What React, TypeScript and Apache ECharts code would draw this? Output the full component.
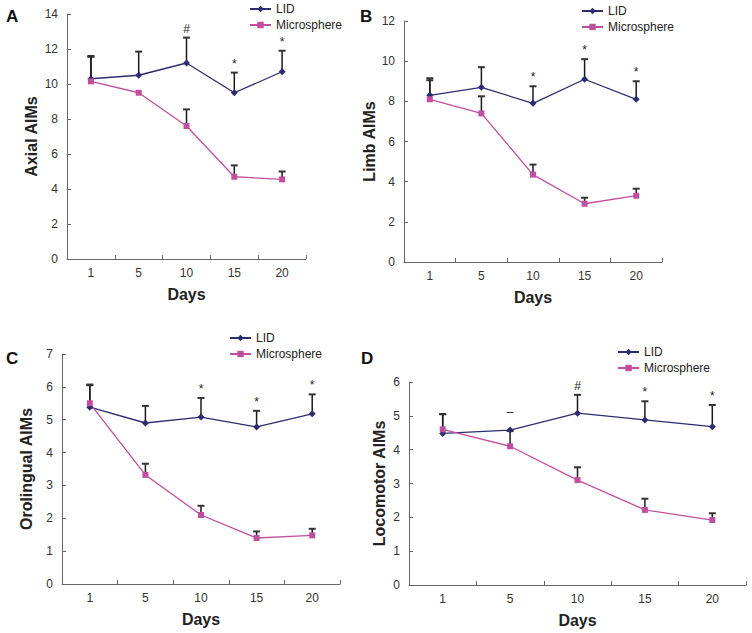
import React, { useEffect, useRef } from "react";
import * as echarts from "echarts";

const days = ["1", "5", "10", "15", "20"];

const axialLID = [10.3, 10.5, 11.2, 9.5, 10.7];
const axialLIDTop = [11.55, 11.85, 12.65, 10.65, 11.9];
const axialMic = [10.15, 9.5, 7.6, 4.7, 4.55];
const axialMicTop = [11.6, null, 8.55, 5.35, 5.0];
const axialMarks = ["", "", "#", "*", "*"];

const limbLID = [8.3, 8.7, 7.9, 9.1, 8.1];
const limbLIDTop = [9.15, 9.7, 8.75, 10.1, 9.0];
const limbMic = [8.1, 7.4, 4.35, 2.9, 3.3];
const limbMicTop = [9.05, 8.25, 4.85, 3.2, 3.65];
const limbMarks = ["", "", "*", "*", "*"];

const oroLID = [5.38, 4.9, 5.08, 4.78, 5.18];
const oroLIDTop = [6.07, 5.42, 5.66, 5.27, 5.77];
const oroMic = [5.5, 3.32, 2.1, 1.4, 1.48];
const oroMicTop = [6.05, 3.66, 2.38, 1.6, 1.68];
const oroMarks = ["", "", "*", "*", "*"];

const locoLID = [4.48, 4.58, 5.08, 4.88, 4.68];
const locoLIDTop = [5.05, null, 5.62, 5.43, 5.32];
const locoMic = [4.6, 4.1, 3.1, 2.22, 1.92];
const locoMicTop = [5.05, 4.55, 3.48, 2.55, 2.12];
const locoMarks = ["", "–", "#", "*", "*"];

const LID_COLOR = "#2c2c70";
const MIC_COLOR = "#c0509f";
const FONT = "Liberation Sans, Arial, sans-serif";

type Panel = {
  letter: string;
  yName: string;
  max: number;
  interval: number;
  lid: number[];
  lidTop: (number | null)[];
  mic: number[];
  micTop: (number | null)[];
  marks: string[];
  grid: { left: number; top: number; width: number; height: number };
  yNameGap: number;
  legendPos: { left: number; top: number };
  letterPos: { x: number; y: number };
};

const panels: Panel[] = [
  {
    letter: "A", yName: "Axial AIMs", max: 14, interval: 2,
    lid: axialLID, lidTop: axialLIDTop, mic: axialMic, micTop: axialMicTop, marks: axialMarks,
    grid: { left: 67, top: 14, width: 239, height: 245 }, yNameGap: 28,
    legendPos: { left: 249, top: 3 }, letterPos: { x: 6, y: 8 },
  },
  {
    letter: "B", yName: "Limb AIMs", max: 12, interval: 2,
    lid: limbLID, lidTop: limbLIDTop, mic: limbMic, micTop: limbMicTop, marks: limbMarks,
    grid: { left: 404, top: 21, width: 258, height: 241 }, yNameGap: 26,
    legendPos: { left: 581, top: 5 }, letterPos: { x: 360, y: 8 },
  },
  {
    letter: "C", yName: "Orolingual AIMs", max: 7, interval: 1,
    lid: oroLID, lidTop: oroLIDTop, mic: oroMic, micTop: oroMicTop, marks: oroMarks,
    grid: { left: 62, top: 354, width: 278, height: 230 }, yNameGap: 28,
    legendPos: { left: 229, top: 332 }, letterPos: { x: 6, y: 350 },
  },
  {
    letter: "D", yName: "Locomotor AIMs", max: 6, interval: 1,
    lid: locoLID, lidTop: locoLIDTop, mic: locoMic, micTop: locoMicTop, marks: locoMarks,
    grid: { left: 409, top: 382, width: 337, height: 203 }, yNameGap: 22,
    legendPos: { left: 617, top: 346 }, letterPos: { x: 361, y: 350 },
  },
];

function makeErrorRender(marks: string[]) {
  return function errorRender(params: any, api: any) {
    const idx = api.value(0);
    const val = api.value(1);
    const top = api.value(2);
    const mark = marks[params.dataIndex] || "";
    const p = api.coord([idx, val]);
    const children: any[] = [];
    let anchorY = p[1];
    if (top !== null && top !== undefined && !isNaN(top) && top > val) {
      const t = api.coord([idx, top]);
      children.push({
        type: "line",
        shape: { x1: p[0], y1: p[1], x2: t[0], y2: t[1] },
        style: { stroke: "#1a1a1a", lineWidth: 1.5 },
      });
      children.push({
        type: "line",
        shape: { x1: t[0] - 3.5, y1: t[1], x2: t[0] + 3.5, y2: t[1] },
        style: { stroke: "#333", lineWidth: 2 },
      });
      anchorY = t[1];
    } else if (mark) {
      anchorY = p[1] - 9;
    }
    if (mark) {
      children.push({
        type: "text",
        style: {
          text: mark,
          x: p[0],
          y: anchorY - 3,
          align: "center",
          verticalAlign: "bottom",
          fill: "#222",
          font: `12px ${FONT}`,
        },
      });
    }
    return { type: "group", children };
  };
}

const noMarks = ["", "", "", "", ""];

export default function App() {
  const ref = useRef<HTMLDivElement>(null);
  useEffect(() => {
    if (!ref.current) return;
    const chart = echarts.init(ref.current, undefined, { renderer: "svg" });

    const grid: any[] = [];
    const xAxis: any[] = [];
    const yAxis: any[] = [];
    const series: any[] = [];
    const legend: any[] = [];
    const graphic: any[] = [];

    panels.forEach((pn, i) => {
      grid.push({ ...pn.grid, containLabel: false });
      xAxis.push({
        type: "category",
        gridIndex: i,
        data: days,
        boundaryGap: true,
        axisLine: { show: true, lineStyle: { color: "#666", width: 1 } },
        axisTick: { show: true, inside: true, length: 4, lineStyle: { color: "#666" } },
        axisLabel: { color: "#333", fontSize: 12, fontFamily: FONT, margin: 8 },
        splitLine: { show: false },
        name: "Days",
        nameLocation: "middle",
        nameGap: 27,
        nameTextStyle: { fontSize: 16, fontWeight: "bold", color: "#222", fontFamily: FONT },
      });
      yAxis.push({
        type: "value",
        gridIndex: i,
        min: 0,
        max: pn.max,
        interval: pn.interval,
        axisLine: { show: true, lineStyle: { color: "#666", width: 1 } },
        axisTick: { show: true, inside: true, length: 4, lineStyle: { color: "#666" } },
        axisLabel: { color: "#333", fontSize: 12, fontFamily: FONT, margin: 9 },
        splitLine: { show: false },
        name: pn.yName,
        nameLocation: "middle",
        nameRotate: 90,
        nameGap: pn.yNameGap,
        nameTextStyle: { fontSize: 16, fontWeight: "bold", color: "#222", fontFamily: FONT },
      });
      series.push({
        type: "line",
        name: "LID",
        xAxisIndex: i,
        yAxisIndex: i,
        data: pn.lid,
        symbol: "diamond",
        symbolSize: 7,
        z: 3,
        lineStyle: { color: LID_COLOR, width: 1.3 },
        itemStyle: { color: LID_COLOR },
      });
      series.push({
        type: "line",
        name: "Microsphere",
        xAxisIndex: i,
        yAxisIndex: i,
        data: pn.mic,
        symbol: "rect",
        symbolSize: 6,
        z: 3,
        lineStyle: { color: MIC_COLOR, width: 1.3 },
        itemStyle: { color: MIC_COLOR },
      });
      series.push({
        type: "custom",
        name: "errLID" + i,
        xAxisIndex: i,
        yAxisIndex: i,
        renderItem: makeErrorRender(pn.marks),
        z: 2,
        data: pn.lid.map((v, k) => [k, v, pn.lidTop[k] ?? NaN]),
      });
      series.push({
        type: "custom",
        name: "errMic" + i,
        xAxisIndex: i,
        yAxisIndex: i,
        renderItem: makeErrorRender(noMarks),
        z: 2,
        data: pn.mic.map((v, k) => [k, v, pn.micTop[k] ?? NaN]),
      });
      legend.push({
        orient: "vertical",
        left: pn.legendPos.left,
        top: pn.legendPos.top,
        data: ["LID", "Microsphere"],
        itemWidth: 21,
        itemHeight: 8,
        itemGap: 4,
        padding: 0,
        selectedMode: false,
        textStyle: { fontSize: 12, color: "#222", fontFamily: FONT },
      });
      graphic.push({
        type: "text",
        left: pn.letterPos.x,
        top: pn.letterPos.y,
        style: { text: pn.letter, font: `bold 17px ${FONT}`, fill: "#111" },
      });
    });

    chart.setOption({
      animation: false,
      backgroundColor: "#fff",
      grid,
      xAxis,
      yAxis,
      series,
      legend,
      graphic,
    });
    return () => chart.dispose();
  }, []);
  return (
    <div
      ref={ref}
      style={{ position: "fixed", left: 0, top: 0, width: 752, height: 633, background: "#fff" }}
    />
  );
}
